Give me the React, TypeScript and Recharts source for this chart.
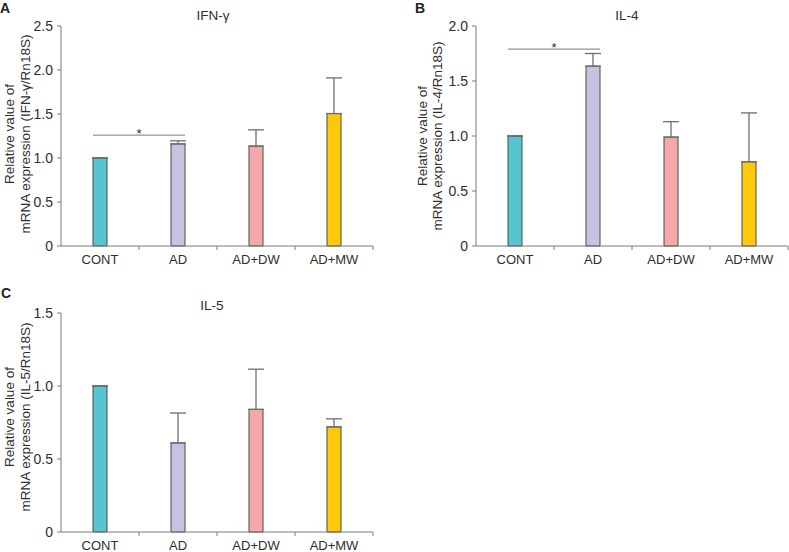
import React from 'react';
import {
  BarChart,
  Bar,
  XAxis,
  YAxis,
  ErrorBar,
  Cell,
  ReferenceLine,
  Label,
} from 'recharts';

// groups on the x axis
const groups = ['CONT', 'AD', 'AD+DW', 'AD+MW'];

// IFN-γ (panel A)
const ifnMean = [1.0, 1.16, 1.135, 1.505];
const ifnErr = [0, 0.035, 0.185, 0.405];
const ifnTicks = [0, 0.5, 1.0, 1.5, 2.0, 2.5];

// IL-4 (panel B)
const il4Mean = [1.0, 1.635, 0.99, 0.765];
const il4Err = [0, 0.115, 0.14, 0.445];
const il4Ticks = [0, 0.5, 1.0, 1.5, 2.0];

// IL-5 (panel C)
const il5Mean = [1.0, 0.61, 0.84, 0.72];
const il5Err = [0, 0.205, 0.275, 0.055];
const il5Ticks = [0, 0.5, 1.0, 1.5];

// significance bars (CONT vs AD)
const ifnSig = 1.26;
const il4Sig = 1.79;

const FONT = '"Liberation Sans", Arial, Helvetica, sans-serif';
const TEXT = '#2e2e2e';
const AXIS = '#7a7a7a';
const COLORS = ['#56c5d0', '#c6c3e1', '#f5a8aa', '#ffc90a'];
const BAR = 14;

function buildData(mean: number[], err: number[]) {
  return groups.map((g, i) => ({ group: g, mean: mean[i], err: [0, err[i]] }));
}

function CategoryTick(props: any) {
  const { x, y, payload, half } = props;
  return (
    <g>
      <line x1={x + half} y1={y} x2={x + half} y2={y + 4} stroke={AXIS} />
      <text
        x={x}
        y={y + 9}
        dy="0.71em"
        textAnchor="middle"
        fill={TEXT}
        fontSize={13}
        fontFamily={FONT}
      >
        {payload.value}
      </text>
    </g>
  );
}

function YTitle({ x1, x2, cy, name }: { x1: number; x2: number; cy: number; name: string }) {
  return (
    <g fontFamily={FONT} fontSize={13.5} fill={TEXT}>
      <text x={x1} y={cy} transform={`rotate(-90 ${x1} ${cy})`} textAnchor="middle">
        Relative value of
      </text>
      <text x={x2} y={cy} transform={`rotate(-90 ${x2} ${cy})`} textAnchor="middle">
        {`mRNA expression (${name}/Rn18S)`}
      </text>
    </g>
  );
}

interface PanelProps {
  letter: string;
  title: string;
  mean: number[];
  err: number[];
  ticks: number[];
  sig?: number;
  left: number;
  top: number;
  width: number;
  height: number;
  yWidth: number;
  mTop: number;
  mRight: number;
  xHeight: number;
  titleX: number;
  titleTop: number;
  letterX: number;
  letterTop: number;
  yTitle: { x1: number; x2: number; cy: number };
}

function Panel(p: PanelProps) {
  const data = buildData(p.mean, p.err);
  const plotW = p.width - p.yWidth - p.mRight;
  const half = plotW / groups.length / 2;
  const max = p.ticks[p.ticks.length - 1];

  return (
    <>
      <div
        style={{
          position: 'absolute',
          left: p.left + p.letterX,
          top: p.top + p.letterTop,
          fontFamily: FONT,
          fontWeight: 'bold',
          fontSize: 14,
          lineHeight: '16px',
          color: '#222',
        }}
      >
        {p.letter}
      </div>
      <div
        style={{
          position: 'absolute',
          left: p.left + p.titleX - 60,
          width: 120,
          top: p.top + p.titleTop,
          textAlign: 'center',
          fontFamily: FONT,
          fontSize: 13.5,
          lineHeight: '14px',
          color: TEXT,
        }}
      >
        {p.title}
      </div>
      <div style={{ position: 'absolute', left: p.left, top: p.top }}>
        <BarChart
          width={p.width}
          height={p.height}
          data={data}
          margin={{ top: p.mTop, right: p.mRight, bottom: 0, left: 0 }}
        >
          <XAxis
            dataKey="group"
            height={p.xHeight}
            interval={0}
            tickLine={false}
            tickSize={0}
            tickMargin={0}
            axisLine={{ stroke: AXIS }}
            tick={(t: any) => <CategoryTick {...t} half={half} />}
          />
          <YAxis
            width={p.yWidth}
            domain={[0, max]}
            ticks={p.ticks}
            interval={0}
            tickSize={4}
            tickMargin={4}
            axisLine={{ stroke: AXIS }}
            tickLine={{ stroke: AXIS }}
            tick={{ fill: TEXT, fontSize: 14, fontFamily: FONT }}
            tickFormatter={(v: number) => (v === 0 ? '0' : v.toFixed(1))}
          >
            <Label
              content={() => (
                <YTitle x1={p.yTitle.x1} x2={p.yTitle.x2} cy={p.yTitle.cy} name={p.title} />
              )}
            />
          </YAxis>
          <Bar
            dataKey="mean"
            barSize={BAR}
            stroke="#4a4a4a"
            strokeWidth={1}
            isAnimationActive={false}
          >
            {data.map((d, i) => (
              <Cell key={d.group} fill={COLORS[i]} />
            ))}
            <ErrorBar
              dataKey="err"
              width={8}
              stroke="#6e6e6e"
              strokeWidth={1.3}
              direction="y"
              isAnimationActive={false}
            />
          </Bar>
          {p.sig !== undefined && (
            <ReferenceLine
              segment={[
                { x: groups[0], y: p.sig },
                { x: groups[1], y: p.sig },
              ]}
              shape={(s: any) => (
                <g>
                  <line
                    x1={s.x1 - BAR / 2}
                    y1={s.y1}
                    x2={s.x2 + BAR / 2}
                    y2={s.y2}
                    stroke={AXIS}
                    strokeWidth={1}
                  />
                  <text
                    x={(s.x1 + s.x2) / 2}
                    y={s.y1 + 3}
                    textAnchor="middle"
                    fontSize={13}
                    fontFamily={FONT}
                    fill={TEXT}
                  >
                    *
                  </text>
                </g>
              )}
            />
          )}
        </BarChart>
      </div>
    </>
  );
}

export default function App() {
  return (
    <div
      style={{
        position: 'absolute',
        left: 0,
        top: 0,
        width: 789,
        height: 552,
        background: '#fff',
        overflow: 'hidden',
      }}
    >
      <Panel
        letter="A"
        title="IFN-γ"
        mean={ifnMean}
        err={ifnErr}
        ticks={ifnTicks}
        sig={ifnSig}
        left={0}
        top={0}
        width={390}
        height={270}
        yWidth={61}
        mTop={26}
        mRight={17}
        xHeight={24}
        titleX={213}
        titleTop={9}
        letterX={0}
        letterTop={0}
        yTitle={{ x1: 14, x2: 30, cy: 134 }}
      />
      <Panel
        letter="B"
        title="IL-4"
        mean={il4Mean}
        err={il4Err}
        ticks={il4Ticks}
        sig={il4Sig}
        left={395}
        top={0}
        width={394}
        height={270}
        yWidth={81}
        mTop={26}
        mRight={1}
        xHeight={24}
        titleX={232}
        titleTop={9}
        letterX={20}
        letterTop={0}
        yTitle={{ x1: 32, x2: 47, cy: 136 }}
      />
      <Panel
        letter="C"
        title="IL-5"
        mean={il5Mean}
        err={il5Err}
        ticks={il5Ticks}
        left={0}
        top={288}
        width={390}
        height={264}
        yWidth={61}
        mTop={25}
        mRight={17}
        xHeight={20}
        titleX={212}
        titleTop={11}
        letterX={1}
        letterTop={-3}
        yTitle={{ x1: 14, x2: 30, cy: 129 }}
      />
    </div>
  );
}
